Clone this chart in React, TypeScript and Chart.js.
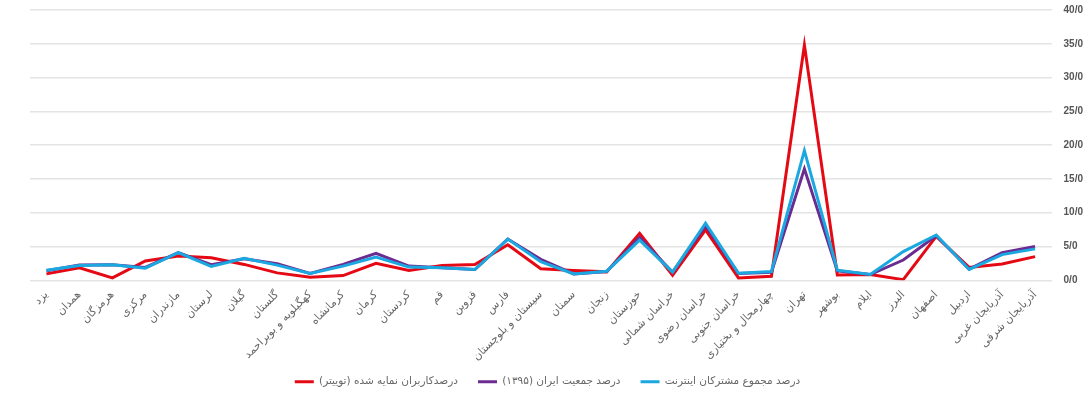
import { useEffect, useRef } from 'react';
import { Chart, registerables } from 'chart.js';

Chart.register(...registerables);

const provinces = [
  'یزد', 'همدان', 'هرمزگان', 'مرکزی', 'مازندران', 'لرستان', 'گیلان', 'گلستان',
  'کهگیلویه و بویراحمد', 'کرمانشاه', 'کرمان', 'کردستان', 'قم', 'قزوین', 'فارس',
  'سیستان و بلوچستان', 'سمنان', 'زنجان', 'خوزستان', 'خراسان شمالی', 'خراسان رضوی',
  'خراسان جنوبی', 'چهارمحال و بختیاری', 'تهران', 'بوشهر', 'ایلام', 'البرز',
  'اصفهان', 'اردبیل', 'آذربایجان غربی', 'آذربایجان شرقی',
];

const twitterShare = [
  0.95, 1.85, 0.35, 2.85, 3.6, 3.35, 2.35, 1.1, 0.45, 0.7, 2.5, 1.45, 2.2, 2.35, 5.25,
  1.7, 1.45, 1.25, 6.95, 0.75, 7.45, 0.35, 0.6, 34.8, 0.8, 0.85, 0.1, 6.5, 1.9, 2.4, 3.5,
];

const populationShare = [
  1.4, 2.25, 2.3, 1.9, 4.1, 2.3, 3.2, 2.45, 1.0, 2.35, 4.0, 2.1, 1.85, 1.6, 6.1,
  3.1, 0.95, 1.3, 6.35, 1.2, 8.1, 1.0, 1.2, 16.5, 1.4, 0.85, 3.0, 6.6, 1.65, 4.1, 5.0,
];

const internetShare = [
  1.5, 2.2, 2.3, 1.8, 4.1, 2.05, 3.25, 2.25, 1.0, 2.1, 3.45, 1.95, 1.85, 1.6, 6.1,
  2.75, 0.95, 1.35, 5.95, 1.2, 8.45, 1.05, 1.3, 19.2, 1.5, 0.85, 4.25, 6.7, 1.6, 3.8, 4.65,
];

const seriesLabels = [
  'درصدکاربران نمایه شده (توییتر)',
  'درصد جمعیت ایران (۱۳۹۵)',
  'درصد مجموع مشترکان اینترنت',
];

const yMin = 0;
const yMax = 40;
const yStep = 5;

export default function App() {
  const canvasRef = useRef<HTMLCanvasElement | null>(null);

  useEffect(() => {
    if (!canvasRef.current) return;
    const font = 'DejaVu Sans, sans-serif';
    const chart = new Chart(canvasRef.current, {
      type: 'line',
      data: {
        labels: provinces,
        datasets: [
          {
            label: seriesLabels[0],
            data: twitterShare,
            borderColor: '#e50914',
            backgroundColor: '#e50914',
            borderWidth: 3,
            pointRadius: 0,
            tension: 0,
            order: 2,
          },
          {
            label: seriesLabels[1],
            data: populationShare,
            borderColor: '#6b2c91',
            backgroundColor: '#6b2c91',
            borderWidth: 3,
            pointRadius: 0,
            tension: 0,
            order: 1,
          },
          {
            label: seriesLabels[2],
            data: internetShare,
            borderColor: '#1ba8e0',
            backgroundColor: '#1ba8e0',
            borderWidth: 3,
            pointRadius: 0,
            tension: 0,
            order: 0,
          },
        ],
      },
      options: {
        animation: false,
        responsive: true,
        maintainAspectRatio: false,
        layout: { padding: { left: 0, right: -5, top: 10, bottom: -1 } },
        plugins: {
          tooltip: { enabled: false },
          legend: {
            position: 'bottom',
            textDirection: 'rtl',
            labels: {
              boxWidth: 19,
              boxHeight: 0,
              padding: 20,
              color: '#666',
              font: { family: font, size: 10.5 },
              sort: (a: any, b: any) => a.datasetIndex - b.datasetIndex,
            },
          },
        },
        scales: {
          x: {
            type: 'category',
            offset: true,
            grid: { display: false, drawTicks: false },
            border: { display: false },
            afterFit: (scale: any) => {
              scale.height = scale.height - 15;
              scale.paddingLeft = 30;
              scale._computeLabelArea = () => undefined;
            },
            ticks: {
              autoSkip: false,
              maxRotation: 45,
              minRotation: 45,
              padding: 8,
              color: '#666',
              font: { family: font, size: 11 },
            },
          },
          y: {
            position: 'right',
            min: yMin,
            max: yMax,
            grid: { color: '#e4e4e4', drawTicks: false, lineWidth: 1.5 },
            border: { display: false },
            afterFit: (scale: any) => {
              scale.paddingTop = 6;
              scale.paddingBottom = 6;
            },
            ticks: {
              stepSize: yStep,
              padding: 12,
              color: '#555',
              font: { family: 'Liberation Sans, sans-serif', size: 10, weight: 'bold' },
              callback: (v: any) => Number(v).toFixed(1).replace('.', '/'),
            },
          },
        },
      },
    });
    return () => chart.destroy();
  }, []);

  return (
    <div style={{ position: 'absolute', left: 0, top: 0, width: 1090, height: 396 }}>
      <canvas ref={canvasRef} />
    </div>
  );
}
